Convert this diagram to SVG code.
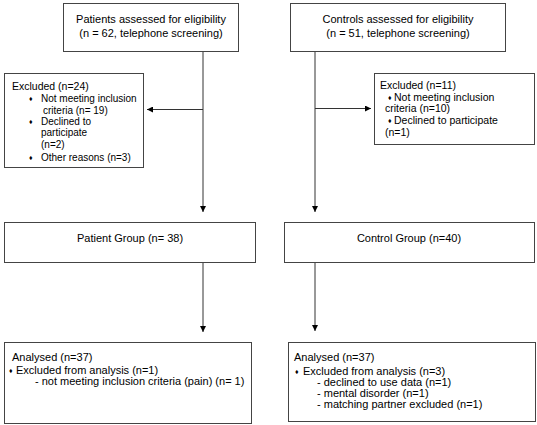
<svg xmlns="http://www.w3.org/2000/svg" width="537" height="425" viewBox="0 0 537 425">
<style>
.box{fill:#fff;stroke:#444;stroke-width:1}
.t{font-family:"Liberation Sans",Arial,sans-serif;font-size:11px;fill:#000}
.s{font-size:10px}
.m{font-size:10.5px}
.c{text-anchor:middle}
.b{font-size:7px}
.ln{stroke:#333;stroke-width:1;fill:none}
</style>
<defs>
<marker id="ah" viewBox="0 0 6 6" refX="6" refY="3" markerWidth="6" markerHeight="6" markerUnits="userSpaceOnUse" orient="auto">
<path d="M0,0 L6,3 L0,6 Z" fill="#000"/>
</marker>
</defs>
<rect width="537" height="425" fill="#fff"/>
<g id="connectors">
<line class="ln" x1="203" y1="51" x2="203" y2="212" marker-end="url(#ah)"/>
<line class="ln" x1="203" y1="109.5" x2="147" y2="109.5" marker-end="url(#ah)"/>
<line class="ln" x1="315" y1="51" x2="315" y2="212" marker-end="url(#ah)"/>
<line class="ln" x1="315" y1="108.5" x2="371" y2="108.5" marker-end="url(#ah)"/>
<line class="ln" x1="203" y1="262" x2="203" y2="332" marker-end="url(#ah)"/>
<line class="ln" x1="315" y1="262" x2="315" y2="331" marker-end="url(#ah)"/>
</g>
<g id="patients-assessed">
<rect class="box" x="63.5" y="3.5" width="175" height="48"/>
<text class="t c" x="151" y="23">Patients assessed for eligibility</text>
<text class="t c" x="151" y="37">(n = 62, telephone screening)</text>
</g>
<g id="controls-assessed">
<rect class="box" x="290.5" y="3.5" width="215" height="48"/>
<text class="t c" x="398" y="23">Controls assessed for eligibility</text>
<text class="t c" x="398" y="37">(n = 51, telephone screening)</text>
</g>
<g id="excluded-patients">
<rect class="box" x="4.5" y="73.5" width="139" height="94"/>
<text class="t m" x="12" y="90">Excluded (n=24)</text>
<text class="t b" x="29" y="100.5">♦</text>
<text class="t s" x="41" y="102">Not meeting inclusion</text>
<text class="t s" x="43" y="114">criteria (n= 19)</text>
<text class="t b" x="29" y="123.5">♦</text>
<text class="t s" x="41" y="125">Declined to</text>
<text class="t s" x="41" y="136">participate</text>
<text class="t s" x="41" y="148">(n=2)</text>
<text class="t b" x="29" y="159.5">♦</text>
<text class="t s" x="41" y="161">Other reasons (n=3)</text>
</g>
<g id="excluded-controls">
<rect class="box" x="374.5" y="73.5" width="160" height="71"/>
<text class="t m" x="380" y="89">Excluded  (n=11)</text>
<text class="t b" x="388" y="99.5">♦</text>
<text class="t m" x="394" y="101">Not meeting inclusion</text>
<text class="t m" x="385" y="112">criteria (n=10)</text>
<text class="t b" x="388" y="122.5">♦</text>
<text class="t m" x="394" y="124">Declined to participate</text>
<text class="t m" x="385" y="136">(n=1)</text>
</g>
<g id="patient-group">
<rect class="box" x="4.5" y="222.5" width="251" height="40"/>
<text class="t c" x="130" y="242">Patient Group (n= 38)</text>
</g>
<g id="control-group">
<rect class="box" x="284.5" y="222.5" width="250" height="40"/>
<text class="t c" x="409" y="242">Control Group (n=40)</text>
</g>
<g id="analysed-patients">
<rect class="box" x="4.5" y="342.5" width="247" height="81"/>
<text class="t" x="12" y="361">Analysed  (n=37)</text>
<text class="t b" x="9" y="372.5">♦</text>
<text class="t" x="16" y="374">Excluded from analysis (n=1)</text>
<text class="t" x="35" y="385">- not meeting inclusion criteria (pain)  (n= 1)</text>
</g>
<g id="analysed-controls">
<rect class="box" x="288.5" y="342.5" width="247" height="79"/>
<text class="t" x="294" y="361">Analysed  (n=37)</text>
<text class="t b" x="295" y="373.5">♦</text>
<text class="t" x="303" y="375">Excluded from analysis (n=3)</text>
<text class="t" x="317" y="386">- declined to use data (n=1)</text>
<text class="t" x="317" y="397">- mental disorder (n=1)</text>
<text class="t" x="317" y="408">- matching partner excluded (n=1)</text>
</g>
</svg>
